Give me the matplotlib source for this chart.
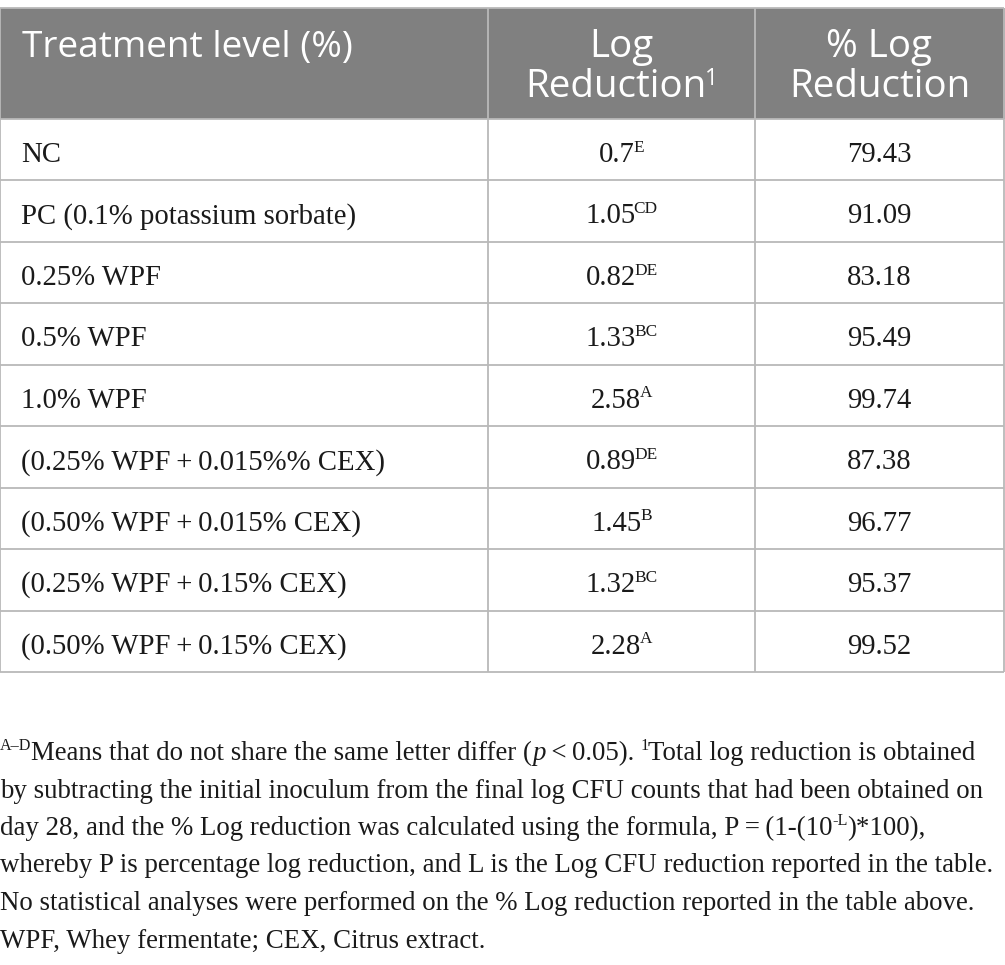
import matplotlib
matplotlib.use("Agg")
import matplotlib.pyplot as plt

# ---------------- data ----------------
col_headers = [["Treatment level (%)"], ["Log", "Reduction"], ["% Log", "Reduction"]]
header_sup = ["", "1", ""]
treatments = [
    "NC",
    "PC (0.1% potassium sorbate)",
    "0.25% WPF",
    "0.5% WPF",
    "1.0% WPF",
    "(0.25% WPF\u2009+\u20090.015%% CEX)",
    "(0.50% WPF\u2009+\u20090.015% CEX)",
    "(0.25% WPF\u2009+\u20090.15% CEX)",
    "(0.50% WPF\u2009+\u20090.15% CEX)",
]
log_reduction = [0.7, 1.05, 0.82, 1.33, 2.58, 0.89, 1.45, 1.32, 2.28]
letters = ["E", "CD", "DE", "BC", "A", "DE", "B", "BC", "A"]
pct_log_reduction = [79.43, 91.09, 83.18, 95.49, 99.74, 87.38, 96.77, 95.37, 99.52]

footnote_lines = [
    [("A\u2013D", "sup"), ("Means that do not share the same letter differ (", "n"), ("p", "i"),
     ("\u2009<\u20090.05). ", "n"), ("1", "sup"), ("Total log reduction is obtained", "n")],
    [("by subtracting the initial inoculum from the final log CFU counts that had been obtained on", "n")],
    [("day 28, and the % Log reduction was calculated using the formula, P\u2009=\u2009(1-(10", "n"),
     ("-L", "sup"), (")*100),", "n")],
    [("whereby P is percentage log reduction, and L is the Log CFU reduction reported in the table.", "n")],
    [("No statistical analyses were performed on the % Log reduction reported in the table above.", "n")],
    [("WPF, Whey fermentate; CEX, Citrus extract.", "n")],
]

# ---------------- layout ----------------
W, H = 1005, 965
fig = plt.figure(figsize=(W / 100, H / 100), dpi=100)
ax = fig.add_axes([0, 0, 1, 1])
ax.set_xlim(0, W)
ax.set_ylim(H, 0)
ax.axis("off")
renderer = fig.canvas.get_renderer()

HEAD_FONT = ["Open Sans", "DejaVu Sans"]
SERIF = ["Liberation Serif", "DejaVu Serif"]

HEADER_BG = "#808080"
GRID = "#b9b9b9"
TEXT = "#1a1a1a"

x_cols = [0, 488, 755, 1004]
y_top = 8
y_head = 119
row_h = (672 - 119) / 9
y_rows = [y_head + i * row_h for i in range(10)]

# header background
ax.add_patch(plt.Rectangle((0, y_top), W, y_head - y_top, facecolor=HEADER_BG, edgecolor="none", zorder=0))

lw = 1.3
for y in [y_top] + y_rows:
    ax.plot([x_cols[0], x_cols[-1]], [y, y], color=GRID, lw=lw, solid_capstyle="butt", zorder=1)
for x in x_cols:
    ax.plot([x, x], [y_top, y_rows[-1]], color=GRID, lw=lw, solid_capstyle="butt", zorder=1)


def text_width(txt, fs, family, style):
    t = ax.text(0, 0, "x" + txt + "x", fontsize=fs, family=family, style=style)
    t2 = ax.text(0, 0, "xx", fontsize=fs, family=family, style=style)
    w = t.get_window_extent(renderer).width - t2.get_window_extent(renderer).width
    t.remove()
    t2.remove()
    return w


def place_runs(x, y, runs, size_px, family, color, ha="left", sup_scale=0.62, sup_rise=0.36, sup_pull=0.0):
    fs_main = size_px * 0.72
    items = []
    prev = None
    for txt, kind in runs:
        fs = fs_main * (sup_scale if kind == "sup" else 1.0)
        style = "italic" if kind == "i" else "normal"
        w = text_width(txt, fs, family, style)
        shift = -sup_pull if (kind == "sup" and prev is not None) else 0.0
        items.append((txt, kind, fs, style, w, shift))
        prev = kind
    total = sum(it[4] + it[5] for it in items)
    if ha == "center":
        cx = x - total / 2
    elif ha == "right":
        cx = x - total
    else:
        cx = x
    for txt, kind, fs, style, w, shift in items:
        cx += shift
        yy = y - size_px * sup_rise if kind == "sup" else y
        ax.text(cx, yy, txt, fontsize=fs, family=family, style=style, color=color,
                va="baseline", ha="left", zorder=3)
        cx += w
    return total


# header texts
place_runs(22, 57, [(col_headers[0][0], "n")], 37, HEAD_FONT, "white")
HEAD_PX = 38.5
for ci in (1, 2):
    cxm = (x_cols[ci] + x_cols[ci + 1]) / 2
    place_runs(cxm, 57, [(col_headers[ci][0], "n")], HEAD_PX, HEAD_FONT, "white", ha="center")
    runs = [(col_headers[ci][1], "n")]
    if header_sup[ci]:
        runs.append((header_sup[ci], "sup"))
    place_runs(cxm, 97, runs, HEAD_PX, HEAD_FONT, "white", ha="center", sup_scale=0.6, sup_rise=0.32,
               sup_pull=1.0)

# body rows
BODY_PX = 28.8
for i, (name, lr, let, pct) in enumerate(zip(treatments, log_reduction, letters, pct_log_reduction)):
    base = y_rows[i] + 43
    place_runs(21, base, [(name, "n")], BODY_PX, SERIF, TEXT)
    place_runs((x_cols[1] + x_cols[2]) / 2, base, [(f"{lr:g}", "n"), (let, "sup")], BODY_PX, SERIF, TEXT,
               ha="center", sup_scale=0.6, sup_rise=0.36, sup_pull=1.5)
    place_runs((x_cols[2] + x_cols[3]) / 2, base, [(f"{pct:.2f}", "n")], BODY_PX, SERIF, TEXT, ha="center")

# footnote
FOOT_PX = 26.9
y0 = 760
for k, runs in enumerate(footnote_lines):
    place_runs(0, y0 + k * 37.5, runs, FOOT_PX, SERIF, TEXT, sup_scale=0.6, sup_rise=0.36, sup_pull=0.5)

fig.savefig("out.png", dpi=100, facecolor="white")
